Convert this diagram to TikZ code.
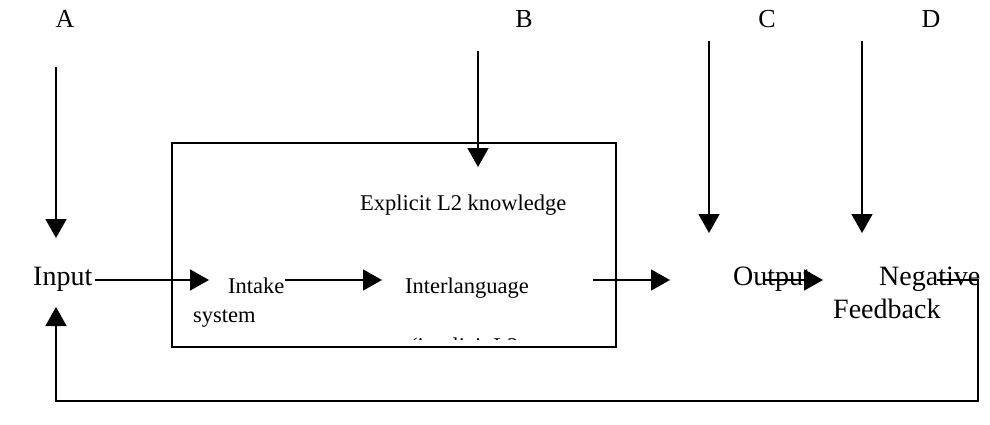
\documentclass[tikz,border=0pt]{standalone}
\usepackage{fontspec}
\setmainfont{Liberation Serif}
\usetikzlibrary{arrows.meta}
\tikzset{
  flow/.style={line width=1.5pt, -{Triangle[length=19pt,width=21pt]}},
  wire/.style={line width=1.5pt},
  bigtxt/.style={inner sep=0pt, anchor=base west, font=\fontsize{28}{32}\selectfont},
  smalltxt/.style={inner sep=0pt, anchor=base west, font=\fontsize{22.5}{27}\selectfont},
  letter/.style={inner sep=0pt, anchor=base, font=\fontsize{26}{30}\selectfont},
}
\begin{document}
\begin{tikzpicture}[x=1pt,y=-1pt]
\useasboundingbox (0,0) rectangle (990,425);

\node [letter] (lblA) at (65,28) {A};
\node [letter] (lblB) at (524,28) {B};
\node [letter] (lblC) at (767,28) {C};
\node [letter] (lblD) at (931,28) {D};

\coordinate (aTop) at (56,67);   \coordinate (aTip) at (56,238);
\coordinate (bTop) at (478,51);  \coordinate (bTip) at (478,167);
\coordinate (cTop) at (709,41);  \coordinate (cTip) at (709,233);
\coordinate (dTop) at (862,41);  \coordinate (dTip) at (862,233);
\draw [flow] (aTop) -- (aTip);
\draw [flow] (bTop) -- (bTip);
\draw [flow] (cTop) -- (cTip);
\draw [flow] (dTop) -- (dTip);

\draw [wire] (172,143) rectangle (616,347);

\node [bigtxt] (input) at (33,285) {Input};
\node [smalltxt] (intake) at (228,293) {Intake};
\node [smalltxt] (system) at (193,322) {system};
\node [smalltxt] (interlang) at (405,293) {Interlanguage};
\node [smalltxt] (explicit) at (360,210) {Explicit L2 knowledge};
\begin{scope}
\clip (172,143) rectangle (616,339.5);
\node [smalltxt] (implicit) at (410,353) {(implicit L2};
\end{scope}
\node [bigtxt] (output) at (733,285) {Output};
\node [bigtxt] (negative) at (879,285) {Negative};
\node [bigtxt] (feedback) at (833,318) {Feedback};

\coordinate (inStart) at (95,280);    \coordinate (inTip) at (209,280);
\coordinate (ikStart) at (285,280);   \coordinate (ikTip) at (382,280);
\coordinate (boxStart) at (593,280);  \coordinate (boxTip) at (670,280);
\coordinate (outStart) at (765,280);  \coordinate (outTip) at (823,280);
\draw [flow] (inStart) -- (inTip);
\draw [flow] (ikStart) -- (ikTip);
\draw [flow] (boxStart) -- (boxTip);
\draw [flow] (outStart) -- (outTip);

\coordinate (fbStart) at (937,280);
\coordinate (fbRight) at (978,280);
\coordinate (fbDown) at (978,401);
\coordinate (fbLeft) at (56,401);
\coordinate (fbTip) at (56,307);
\draw [flow] (fbStart) -- (fbRight) -- (fbDown) -- (fbLeft) -- (fbTip);
\end{tikzpicture}
\end{document}
